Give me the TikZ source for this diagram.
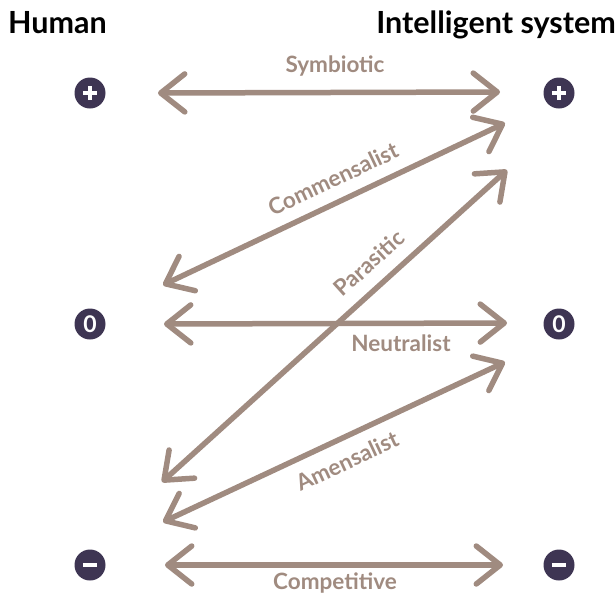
\documentclass[tikz,border=0pt]{standalone}
\usepackage{fontspec}
\setmainfont{Lato}
\usetikzlibrary{arrows.meta}
\definecolor{chalk}{HTML}{A08B80}
\definecolor{dot}{HTML}{3E3553}
\begin{document}
\begin{tikzpicture}[x=1pt,y=-1pt,
  rel/.style={draw=chalk, line width=5.5pt, line cap=round,
    {Straight Barb[length=24pt,width=38pt,round]}-{Straight Barb[length=24pt,width=38pt,round]}},
  lbl/.style={text=chalk, font=\bfseries\fontsize{22.5}{22.5}\selectfont, inner sep=0pt},
  ttl/.style={font=\bfseries\fontsize{30.5}{30.5}\selectfont, inner sep=0pt, text=black},
  sign/.style={circle, fill=dot, minimum size=31pt, inner sep=0pt, text=white,
    font=\bfseries\fontsize{23}{23}\selectfont},
  bar/.style={draw=white, line width=3.6pt}]
\useasboundingbox (0,0) rectangle (616,598);
% titles
\node[ttl, anchor=base west] (human) at (8,33) {Human};
\node[ttl, anchor=base east] (sys) at (616,33) {Intelligent system};
% signs
\node[sign] (hp) at (90,93) {};
\node[sign] (h0) at (90,324) {0};
\node[sign] (hm) at (90,565) {};
\node[sign] (ip) at (559,93) {};
\node[sign] (i0) at (559,324) {0};
\node[sign] (im) at (559,565) {};
\foreach \n in {hp,ip}{
  \draw[bar] ([xshift=-7pt]\n.center) -- ([xshift=7pt]\n.center);
  \draw[bar] ([yshift=-7pt]\n.center) -- ([yshift=7pt]\n.center);}
\foreach \n in {hm,im}{
  \draw[bar] ([xshift=-7pt]\n.center) -- ([xshift=7pt]\n.center);}
% arrow ends
\coordinate (sL) at (158,93);  \coordinate (sR) at (500,92);
\coordinate (cL) at (163,285); \coordinate (cR) at (505,123);
\coordinate (pL) at (162,482); \coordinate (pR) at (507,170);
\coordinate (nL) at (164,324); \coordinate (nR) at (507,323);
\coordinate (aL) at (163,522); \coordinate (aR) at (505,362);
\coordinate (kL) at (165,565); \coordinate (kR) at (503,565);
% arrows
\draw[rel] (sL) -- (sR);
\draw[rel] (cL) -- (cR);
\draw[rel] (pL) -- (pR);
\draw[rel] (nL) -- (nR);
\draw[rel] (aL) -- (aR);
\draw[rel] (kL) -- (kR);
% labels
\node[lbl] (ls) at (335,66) {Symbiotic};
\node[lbl, rotate=25.3] (lc) at (333,179) {Commensalist};
\node[lbl, rotate=42] (lp) at (369,263) {Parasitic};
\node[lbl] (ln) at (401,343) {Neutralist};
\node[lbl, rotate=25] (la) at (347,461) {Amensalist};
\node[lbl] (lk) at (335,583) {Competitive};
\end{tikzpicture}
\end{document}
